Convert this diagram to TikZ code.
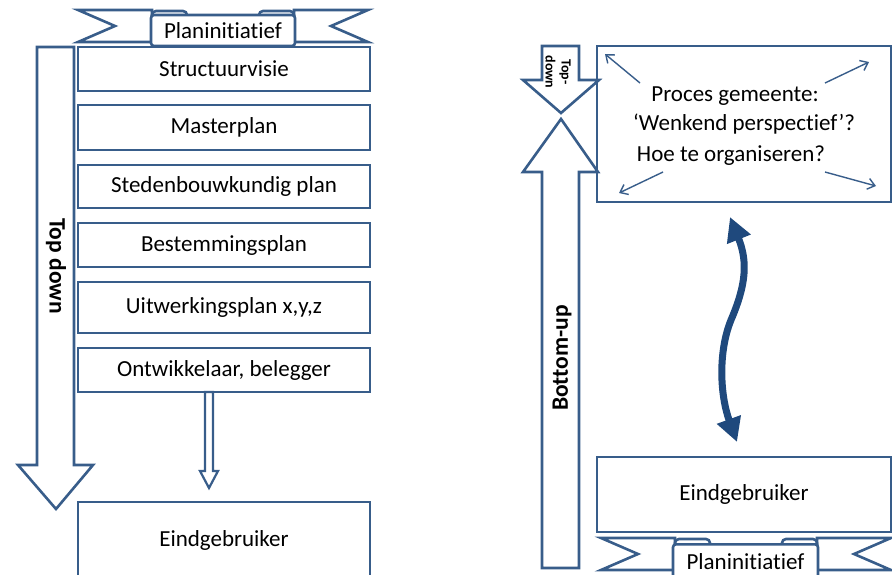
\documentclass[tikz,border=0pt]{standalone}
\usepackage{fontspec}
\setmainfont{Carlito}[Ligatures=NoCommon]
\usetikzlibrary{arrows.meta}
\definecolor{edge}{HTML}{385D8A}
\definecolor{navy}{HTML}{1F497D}
\tikzset{
  outline/.style={draw=edge, line width=2.6pt, fill=white, line join=miter},
  stepbox/.style={outline, minimum width=292pt, inner sep=0pt, font=\fontsize{23}{27}\selectfont},
  boxtext/.style={font=\fontsize{23}{27}\selectfont, inner sep=0pt},
  arrowtext/.style={font=\bfseries\fontsize{23.5}{27}\selectfont, inner sep=0pt},
  thinarrow/.style={draw=edge, line width=1.4pt, -{Straight Barb[length=7pt,width=11pt]}},
  ribbon/.pic={
    % left and right ends of the banner
    \draw[outline] (0,0) -- (74,0) -- (74,32) -- (0,32) -- (37,16) -- cycle;
    \draw[outline] (290,0) -- (216,0) -- (216,32) -- (290,32) -- (253,16) -- cycle;
    % rolled tabs behind the label
    \draw[outline, rounded corners=4pt] (74,12) -- (74,1) -- (109,1) -- (109,12);
    \draw[outline, rounded corners=4pt] (181,12) -- (181,1) -- (216,1) -- (216,12);
  }
}
\begin{document}
\begin{tikzpicture}[x=1pt, y=-1pt]
\useasboundingbox (0,0) rectangle (892,574);

% ---------------- left: top-down chain ----------------
\draw[outline] (37,47) -- (74,47) -- (74,465) -- (93,465) -- (56,509) -- (18,465) -- (37,465) -- cycle;
\node[arrowtext, rotate=-90] (tdlabel) at (56,266) {Top down};

\pic at (78,10) {ribbon};
\node[outline, rounded corners=3pt, minimum width=144pt, minimum height=31pt, inner sep=0pt, boxtext] (init1) at (223,30.5) {Planinitiatief};

\node[stepbox, minimum height=44pt] (s1) at (224,69)  {Structuurvisie};
\node[stepbox, minimum height=45pt] (s2) at (224,127.5) {Masterplan};
\node[stepbox, minimum height=43pt] (s3) at (224,186.5) {Stedenbouwkundig plan};
\node[stepbox, minimum height=44pt] (s4) at (224,245) {Bestemmingsplan};
\node[stepbox, minimum height=51pt] (s5) at (224,307.5) {Uitwerkingsplan x,y,z};
\node[stepbox, minimum height=44pt] (s6) at (224,370) {Ontwikkelaar, belegger};

% small hollow arrow towards the end user
\draw[outline, line width=2.2pt] (205,392) -- (213,392) -- (213,471) -- (218,471) -- (209,488) -- (200,471) -- (205,471) -- cycle;

\draw[outline] (78,600) -- (78,502) -- (370,502) -- (370,600);
\node[boxtext] (eind1) at (224,540) {Eindgebruiker};

% ---------------- right: bottom-up process ----------------
\node[stepbox, minimum width=294pt, minimum height=156pt] (proc) at (744,124) {};
\node[boxtext] (p1) at (735,96) {Proces gemeente:};
\node[boxtext] (p2) at (744,124) {‘Wenkend perspectief’?};
\node[boxtext] (p3) at (731,156) {Hoe te organiseren?};

\coordinate (c1) at (605,54);
\coordinate (c2) at (869,62);
\coordinate (c3) at (619,193);
\coordinate (c4) at (876,186);
\draw[thinarrow] (640,83) -- (c1);
\draw[thinarrow] (825,83) -- (c2);
\draw[thinarrow] (663,172) -- (c3);
\draw[thinarrow] (825,172) -- (c4);

% small top-down arrow
\draw[outline] (542,46) -- (579,46) -- (579,80) -- (599,80) -- (561,113) -- (523,80) -- (542,80) -- cycle;
\node[arrowtext, font=\bfseries\fontsize{14}{16}\selectfont, rotate=-90, align=center] (tdsmall) at (558,72) {Top-\\down};

% bottom-up arrow
\draw[outline] (542,568) -- (579,568) -- (579,172) -- (598,172) -- (561,119) -- (523,172) -- (542,172) -- cycle;
\node[arrowtext, rotate=90] (bulabel) at (562,358) {Bottom-up};

\node[stepbox, minimum width=294pt, minimum height=75pt] (eind2) at (744,494.5) {Eindgebruiker};

% two-way link between process and end user
\draw[navy, line width=7pt, {Triangle[length=24pt,width=24pt]}-{Triangle[length=24pt,width=24pt]}]
  (730,217) .. controls (748,262) and (746,285) .. (731,320) .. controls (718,352) and (720,395) .. (737,442);

\pic at (601,538) {ribbon};
\node[outline, rounded corners=3pt, minimum width=145pt, minimum height=36pt, inner sep=0pt, boxtext, text depth=0pt, anchor=north] (init2) at (745.5,543) {};
\node[boxtext] (init2t) at (745.5,562) {Planinitiatief};
\end{tikzpicture}
\end{document}
